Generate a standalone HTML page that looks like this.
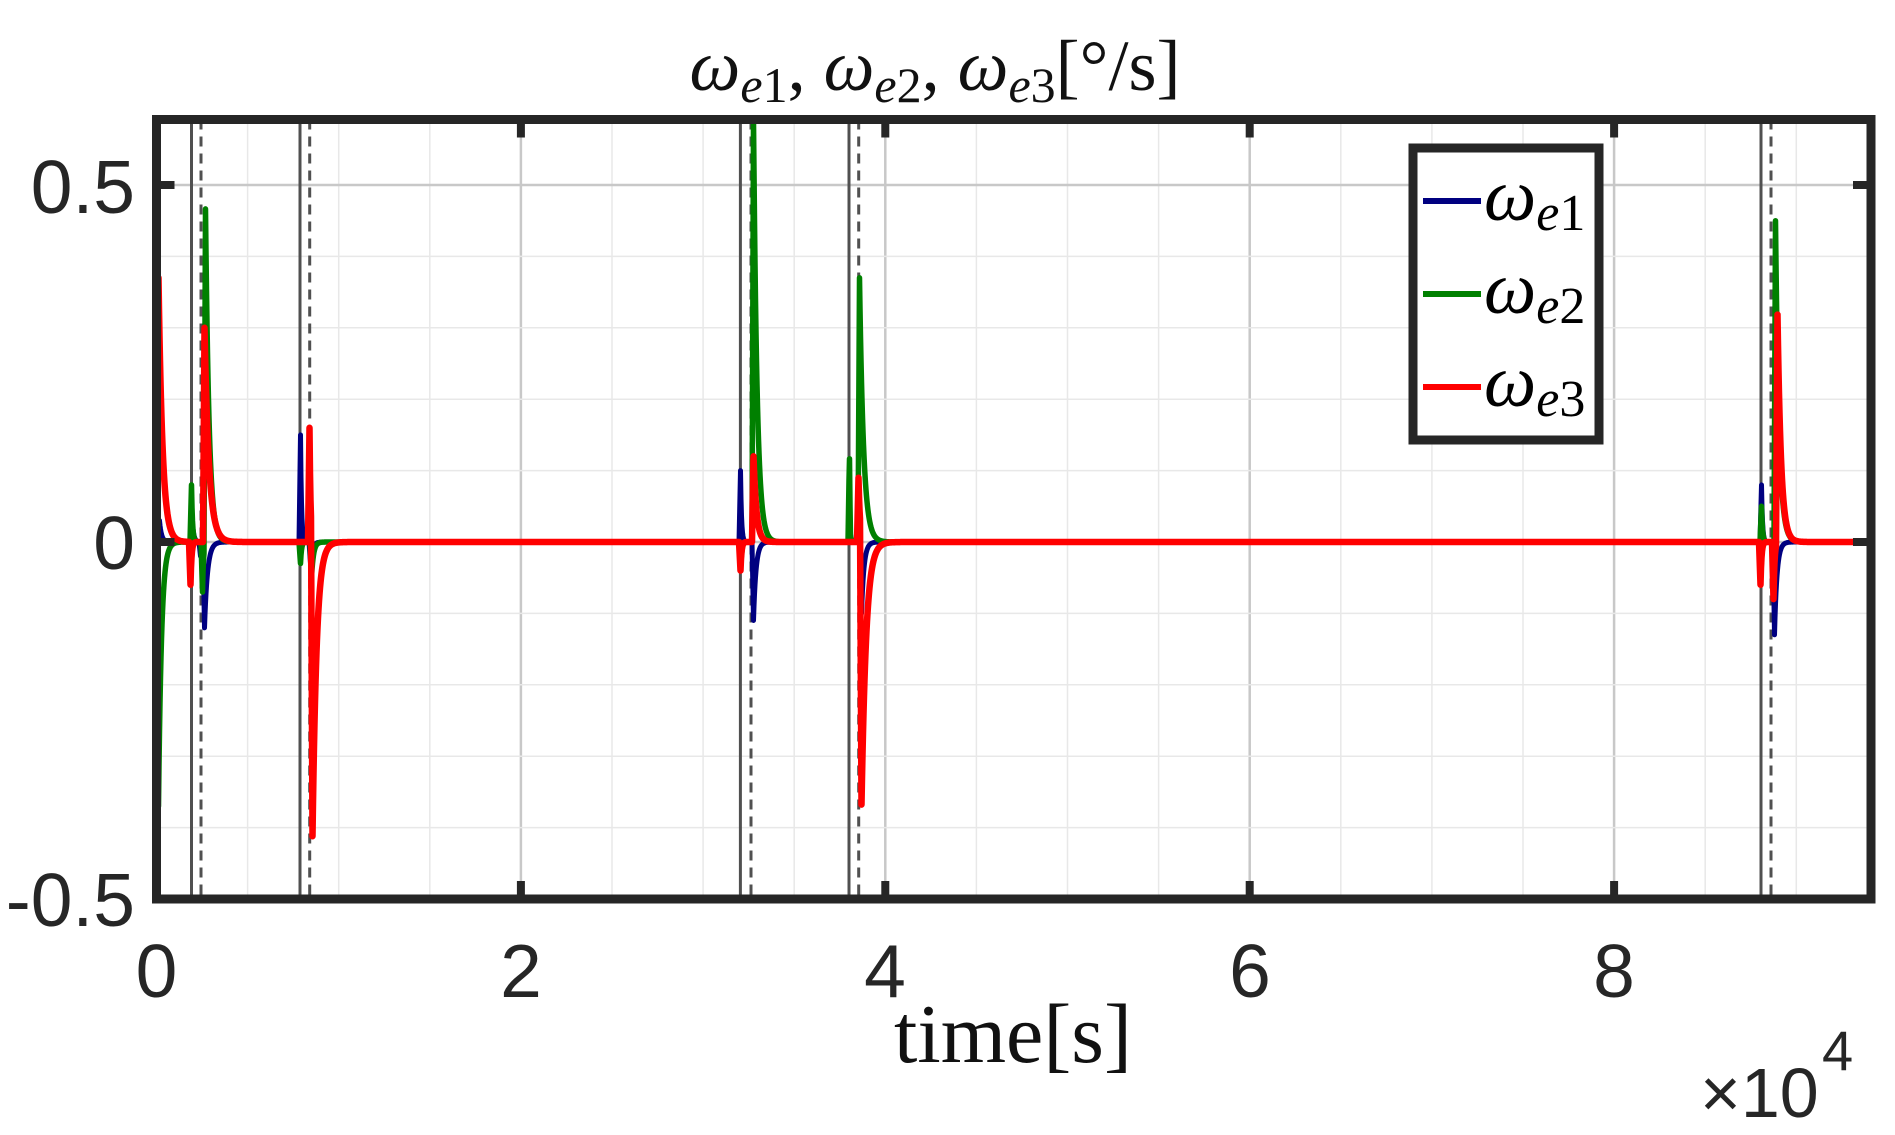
<!DOCTYPE html>
<html><head><meta charset="utf-8"><style>
html,body{margin:0;padding:0;background:#fff}
svg{display:block}
</style></head><body>
<svg id="s" width="1895" height="1135" viewBox="0 0 1895 1135" xmlns="http://www.w3.org/2000/svg">
<rect width="1895" height="1135" fill="#fff"/>
<g id="grid"></g>
<g id="ev"></g>
<g id="data" fill="none" stroke-linejoin="round" stroke-linecap="round"></g>
<rect x="156.5" y="119.5" width="1714.5" height="779.5" fill="none" stroke="#262626" stroke-width="9"/>
<g id="ticks" stroke="#262626" stroke-width="8"></g>
<g font-family="'Liberation Sans', sans-serif" font-size="75" fill="#262626">
<text x="135" y="213" text-anchor="end">0.5</text>
<text x="135" y="569" text-anchor="end">0</text>
<text x="135" y="926" text-anchor="end">-0.5</text>
<text x="156.5" y="997" text-anchor="middle">0</text>
<text x="521" y="997" text-anchor="middle">2</text>
<text x="885" y="997" text-anchor="middle">4</text>
<text x="1250" y="997" text-anchor="middle">6</text>
<text x="1614" y="997" text-anchor="middle">8</text>
<text x="1700" y="1117" font-size="70">×10</text>
<text x="1822" y="1070" font-size="56">4</text>
</g>
<g font-family="'Liberation Serif', serif" fill="#111">
<text x="935" y="90" text-anchor="middle" font-size="72"><tspan font-style="italic">ω</tspan><tspan font-size="50" dy="12"><tspan font-style="italic">e</tspan>1</tspan><tspan dy="-12">, </tspan><tspan font-style="italic">ω</tspan><tspan font-size="50" dy="12"><tspan font-style="italic">e</tspan>2</tspan><tspan dy="-12">, </tspan><tspan font-style="italic">ω</tspan><tspan font-size="50" dy="12"><tspan font-style="italic">e</tspan>3</tspan><tspan dy="-12">[°/s]</tspan></text>
<text x="1013" y="1062" text-anchor="middle" font-size="84">time[s]</text>
</g>
<rect x="1413" y="148" width="186" height="292" fill="#fff" stroke="#262626" stroke-width="9"/>
<g stroke-width="6">
<line x1="1423" y1="201" x2="1481" y2="201" stroke="#000080"/>
<line x1="1423" y1="294" x2="1481" y2="294" stroke="#008000"/>
<line x1="1423" y1="387" x2="1481" y2="387" stroke="#ff0000"/>
</g>
<g font-family="'Liberation Serif', serif" fill="#000" font-size="74">
<text x="1484" y="220"><tspan font-style="italic">ω</tspan><tspan font-size="52" dy="10"><tspan font-style="italic">e</tspan>1</tspan></text>
<text x="1484" y="313"><tspan font-style="italic">ω</tspan><tspan font-size="52" dy="10"><tspan font-style="italic">e</tspan>2</tspan></text>
<text x="1484" y="406"><tspan font-style="italic">ω</tspan><tspan font-size="52" dy="10"><tspan font-style="italic">e</tspan>3</tspan></text>
</g>
</svg>
<script>
var NS="http://www.w3.org/2000/svg";
function el(p,t,a){var e=document.createElementNS(NS,t);for(var k in a)e.setAttribute(k,a[k]);p.appendChild(e);return e;}
var X0=156.5,XS=182.2,Y0=542,YS=714,L=156.5,R=1871,T=119.5,B=899;
function X(t){return X0+t*XS;} function Y(v){return Y0-v*YS;}
var g=document.getElementById('grid');
for(var i=0;i<=18;i++){var x=X(i*0.5);if(x>R-3)break;var maj=i%4==0;
 el(g,'line',{x1:x,y1:T,x2:x,y2:B,stroke:maj?'#c8c8c8':'#e8e8e8','stroke-width':maj?2.5:1.5});}
for(var v=-5;v<=5;v++){var y=Y(v/10);var maj=(v%5==0);
 el(g,'line',{x1:L,y1:y,x2:R,y2:y,stroke:maj?'#c8c8c8':'#e8e8e8','stroke-width':maj?2.5:1.5});}
var tk=document.getElementById('ticks');
[0,2,4,6,8].forEach(function(t){var x=X(t);el(tk,'line',{x1:x,y1:B,x2:x,y2:B-18});el(tk,'line',{x1:x,y1:T,x2:x,y2:T+18});});
[-0.5,0,0.5].forEach(function(v){var y=Y(v);el(tk,'line',{x1:L,y1:y,x2:L+18,y2:y});el(tk,'line',{x1:R,y1:y,x2:R-18,y2:y});});
var ev=document.getElementById('ev');
[[191.5,201],[300,309.7],[740.4,751],[849,858.7],[1761,1771]].forEach(function(p){
 el(ev,'line',{x1:p[0],y1:T,x2:p[0],y2:B,stroke:'#505050','stroke-width':3});
 el(ev,'line',{x1:p[1],y1:T,x2:p[1],y2:B,stroke:'#505050','stroke-width':3,'stroke-dasharray':'10,7'});});
var S={
 b:[[158,0.03,2],[190,0.05,1.5],[199,-0.02,1],[203,-0.12,3],[299,0.15,1],[309,-0.03,2],[739,0.1,1],[752,-0.11,2.5],[848,0.03,1],[860,-0.1,2.5],[1760,0.08,1],[1773,-0.13,2.5]],
 g:[[157,-0.37,3],[190,0.08,1],[201,-0.07,1],[204,0.47,3.5],[299,-0.03,1],[310,-0.05,2],[740,-0.02,1],[752,0.6,3.5],[848,0.13,1],[849,-0.04,1],[858,0.37,4],[1760,0.05,1],[1774,0.45,3.5]],
 r:[[157,0.37,4],[189,-0.06,1],[203,0.3,4.5],[308,0.16,1],[311,-0.42,4],[739,-0.04,1],[752,0.12,3],[857,0.09,1.5],[860,-0.38,4.5],[1759,-0.06,1],[1776,0.32,3.5],[1772,-0.08,1]]};
function path(list){
 var pts=[];for(var x=L;x<=R-4;x+=0.5){var v=0;
  list.forEach(function(s){var d=x-s[0];if(d>=0){v+= (d<1.5? s[1]*d/1.5 : s[1]*Math.exp(-(d-1.5)/s[2]));}});
  v=Math.max(-0.5,Math.min(0.59,v));pts.push(x.toFixed(1)+','+Y(v).toFixed(1));}
 return 'M'+pts.join('L');}
var d=document.getElementById('data');
el(d,'path',{d:path(S.b),stroke:'#000080','stroke-width':5});
el(d,'path',{d:path(S.g),stroke:'#008000','stroke-width':5.5});
el(d,'path',{d:path(S.r),stroke:'#ff0000','stroke-width':6.5});
</script>
</body></html>
